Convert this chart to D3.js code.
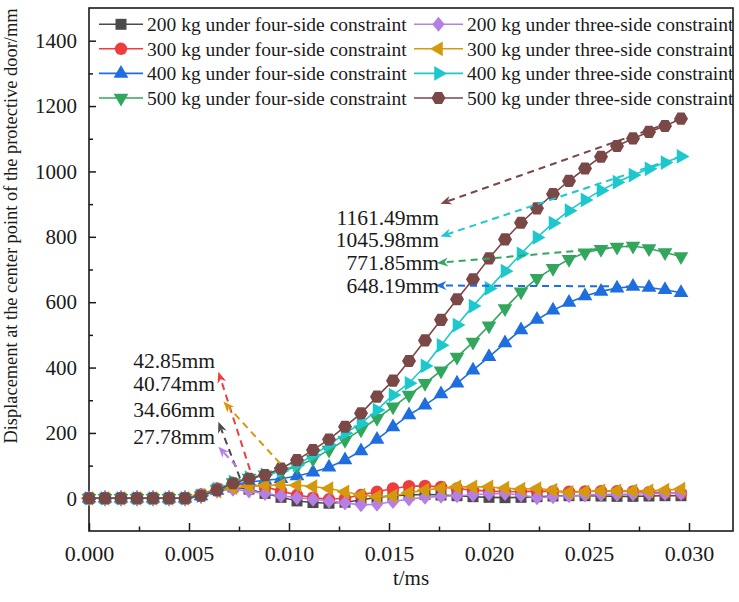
<!DOCTYPE html>
<html><head><meta charset="utf-8">
<script src="https://cdn.jsdelivr.net/npm/d3@7/dist/d3.min.js"></script>
<style>
body{margin:0;background:#fff}
svg{display:block}
text{font-family:"Liberation Serif","Times New Roman",serif;fill:#1a1a1a}
</style>
</head><body>
<svg id="chart" width="739" height="602"></svg>
<script>
// ---------------- data ----------------
const times = [0,0.0008,0.0016,0.0024,0.0032,0.004,0.0048,0.0056,0.0064,0.0072,0.008,0.0088,0.0096,0.0104,0.0112,0.012,0.0128,0.0136,0.0144,0.0152,0.016,0.0168,0.0176,0.0184,0.0192,0.02,0.0208,0.0216,0.0224,0.0232,0.024,0.0248,0.0256,0.0264,0.0272,0.028,0.0288,0.0296];

const kg200Four = [0,0,0,0,0,0,0,10,28,34.66,28,15,3,-8,-13,-15,-12,-5,3,8,10,12,10,8,5,3,2,3,5,7,8,8,7,6,6,7,8,8];
const kg300Four = [0,0,0,0,0,0,0,12,30,40,42.85,35,22,10,2,-3,0,10,20,30,37,38,35,30,25,22,20,21,22,21,20,21,22,22,21,19,17,15];
const kg400Four = [0,0,0,0,0,0,0,7,24,42,50,55,60,68,80,95,117,145,180,218,255,285,319,352,392,433,475,515,547,575,599,619,633,643,648.19,645,638,629];
const kg500Four = [0,0,0,0,0,0,0,8,27,48,62,72,82,97,120,148,178,210,245,280,316,352,390,432,478,528,581,632,673,704,731,751,762,769,771.85,764,752,740];
const kg200Three = [0,0,0,0,0,0,0,8,22,27.78,22,15,8,2,-3,-8,-14,-20,-18,-10,-2,3,6,8,11,14,15,10,2,5,8,10,12,12,13,14,15,15];
const kg300Three = [0,0,0,0,0,0,0,10,22,32,37,39,40.74,40,36,30,20,10,5,7,17,25,31,35,35,35,31,28,30,25,18,20,23,23,23,23,25,28];
const kg400Three = [0,0,0,0,0,0,0,8,28,50,63,72,84,102,132,163,199,229,270,316,352,405,468,530,588,642,695,748,798,842,880,913,942,967,989,1008,1027,1045.98];
const kg500Three = [0,0,0,0,0,0,0,8,25,46,60,71,91,117,148,180,219,260,311,360,420,483,546,609,670,734,792,843,887,931,971,1009,1045,1078,1101,1121,1139,1161.49];

const seriesNames = [
  "200 kg under four-side constraint","300 kg under four-side constraint",
  "400 kg under four-side constraint","500 kg under four-side constraint",
  "200 kg under three-side constraint","300 kg under three-side constraint",
  "400 kg under three-side constraint","500 kg under three-side constraint"];
const seriesValues = [kg200Four,kg300Four,kg400Four,kg500Four,kg200Three,kg300Three,kg400Three,kg500Three];
const seriesColors = ["#4b4b4b","#f03c3c","#1f6ee0","#33a65e","#b67fe6","#d49a0c","#1cc8cc","#7b4848"];
const seriesShapes = ["square","circle","up","down","diamond","left","right","hexagon"];

const xTicks = [0,0.005,0.010,0.015,0.020,0.025,0.030];
const xMinor = [0.0025,0.0075,0.0125,0.0175,0.0225,0.0275];
const yTicks = [0,200,400,600,800,1000,1200,1400];
const yMinor = [100,300,500,700,900,1100,1300];

// annotations: label, colour index, label anchor [t,v], arrow tail [t,v], arrow head [t,v]
const annLabels = ["42.85mm","40.74mm","34.66mm","27.78mm","1161.49mm","1045.98mm","771.85mm","648.19mm"];
const annSeries = [1,5,0,4,7,6,3,2];
const annLabelPos = [[0.0063,423],[0.0063,352],[0.0063,273],[0.0063,190],[0.0175,860],[0.0175,791],[0.0175,720],[0.0175,651]];
const annTail = [[0.00805,87],[0.00955,107],[0.00755,62],[0.00739,97],[0.0296,1161.49],[0.0296,1045.98],[0.0272,771.85],[0.0272,648.19]];
const annHead = [[0.00647,387],[0.00672,296],[0.00647,234],[0.00647,158],[0.01757,901],[0.01757,801],[0.0174,720],[0.01732,651]];

// ---------------- drawing ----------------
const svg = d3.select("#chart");
const x = d3.scaleLinear().domain([0,0.0322]).range([89,733]);
const y = d3.scaleLinear().domain([-100,1500]).range([531,8]);

function shapePath(type){
  const pts = a => "M" + a.map(p => p[0].toFixed(2)+","+p[1].toFixed(2)).join("L") + "Z";
  switch(type){
    case "square": return pts([[-5.5,-5.5],[5.5,-5.5],[5.5,5.5],[-5.5,5.5]]);
    case "circle": return "M6.2,0A6.2,6.2 0 1,1 -6.2,0A6.2,6.2 0 1,1 6.2,0Z";
    case "up": return pts([[0,-8.5],[7.36,4.25],[-7.36,4.25]]);
    case "down": return pts([[0,8.5],[7.36,-4.25],[-7.36,-4.25]]);
    case "left": return pts([[-8.5,0],[4.25,-7.36],[4.25,7.36]]);
    case "right": return pts([[8.5,0],[-4.25,-7.36],[-4.25,7.36]]);
    case "diamond": return pts([[0,-7.5],[6.2,0],[0,7.5],[-6.2,0]]);
    case "hexagon": return pts(d3.range(6).map(k => [7*Math.cos(Math.PI/3*k), 7*Math.sin(Math.PI/3*k)]));
  }
}

// axes ticks (inward)
const gx = svg.append("g").attr("transform","translate(0,531)")
  .call(d3.axisBottom(x).tickValues(xTicks).tickSize(-8).tickSizeOuter(0).tickPadding(14).tickFormat(d3.format(".3f")));
gx.select(".domain").remove();
gx.selectAll("text").attr("font-size",22).style("font-family",'"Liberation Serif",serif').attr("fill","#1a1a1a");
gx.selectAll("line").attr("stroke","#1a1a1a").attr("stroke-width",1.5);
const gxm = svg.append("g").attr("transform","translate(0,531)")
  .call(d3.axisBottom(x).tickValues(xMinor).tickSize(-4.5).tickSizeOuter(0).tickFormat(""));
gxm.select(".domain").remove();
gxm.selectAll("line").attr("stroke","#1a1a1a").attr("stroke-width",1.5);

const gy = svg.append("g").attr("transform","translate(89,0)")
  .call(d3.axisLeft(y).tickValues(yTicks).tickSize(-7).tickSizeOuter(0).tickPadding(12).tickFormat(d3.format("d")));
gy.select(".domain").remove();
gy.selectAll("text").attr("font-size",21).style("font-family",'"Liberation Serif",serif').attr("fill","#1a1a1a");
gy.selectAll("line").attr("stroke","#1a1a1a").attr("stroke-width",1.5);
const gym = svg.append("g").attr("transform","translate(89,0)")
  .call(d3.axisLeft(y).tickValues(yMinor).tickSize(-4).tickSizeOuter(0).tickFormat(""));
gym.select(".domain").remove();
gym.selectAll("line").attr("stroke","#1a1a1a").attr("stroke-width",1.5);

// frame
svg.append("rect").attr("x",x.range()[0]).attr("y",y.range()[1])
  .attr("width",x.range()[1]-x.range()[0]).attr("height",y.range()[0]-y.range()[1])
  .attr("fill","none").attr("stroke","#1a1a1a").attr("stroke-width",1.6);

// series
const line = d3.line().x((d,i)=>x(times[i])).y(d=>y(d));
seriesValues.forEach((vals,k)=>{
  const g = svg.append("g");
  g.append("path").attr("d",line(vals)).attr("fill","none")
    .attr("stroke",seriesColors[k]).attr("stroke-width",1.6);
  g.selectAll("path.m").data(vals).join("path").attr("class","m")
    .attr("d",shapePath(seriesShapes[k]))
    .attr("transform",(d,i)=>`translate(${x(times[i])},${y(d)})`)
    .attr("fill",seriesColors[k]);
});

// annotation arrows
annLabels.forEach((lab,k)=>{
  const col = seriesColors[annSeries[k]];
  const x1 = x(annTail[k][0]), y1 = y(annTail[k][1]);
  const x2 = x(annHead[k][0]), y2 = y(annHead[k][1]);
  const ang = Math.atan2(y2-y1,x2-x1);
  const L = 11, Wd = 4.5;
  const bx = x2 - L*Math.cos(ang), by = y2 - L*Math.sin(ang);
  svg.append("line").attr("x1",x1).attr("y1",y1).attr("x2",bx+3*Math.cos(ang)).attr("y2",by+3*Math.sin(ang))
    .attr("stroke",col).attr("stroke-width",2).attr("stroke-dasharray","7,5");
  const px = -Math.sin(ang), py = Math.cos(ang);
  const mx = x2 - 0.7*L*Math.cos(ang), my = y2 - 0.7*L*Math.sin(ang);
  svg.append("path")
    .attr("d",`M${x2},${y2}L${bx+Wd*px},${by+Wd*py}L${mx},${my}L${bx-Wd*px},${by-Wd*py}Z`)
    .attr("fill",col);
  svg.append("text").attr("x",x(annLabelPos[k][0])).attr("y",y(annLabelPos[k][1]))
    .attr("dy","0.35em").attr("text-anchor","end").attr("font-size",21.5).text(lab);
});

// legend
const legRows = [24.3,48.8,73.4,98];
seriesNames.forEach((nm,k)=>{
  const col = Math.floor(k/4), row = k%4;
  const lx0 = col ? 414 : 99, lx1 = col ? 463 : 143, tx = col ? 467 : 147;
  const cy = legRows[row];
  const g = svg.append("g");
  g.append("line").attr("x1",lx0).attr("x2",lx1).attr("y1",cy).attr("y2",cy)
    .attr("stroke",seriesColors[k]).attr("stroke-width",1.6);
  g.append("path").attr("d",shapePath(seriesShapes[k]))
    .attr("transform",`translate(${(lx0+lx1)/2},${cy})`).attr("fill",seriesColors[k]);
  g.append("text").attr("x",tx).attr("y",cy).attr("dy","0.35em").attr("font-size",19.5).text(nm);
});

// axis titles
svg.append("text").attr("x",411).attr("y",585).attr("text-anchor","middle").attr("font-size",21).text("t/ms");
svg.append("text").attr("transform","translate(17,226) rotate(-90)").attr("text-anchor","middle")
  .attr("font-size",18.4).text("Displacement at the center point of the protective door/mm");
</script>
</body></html>
